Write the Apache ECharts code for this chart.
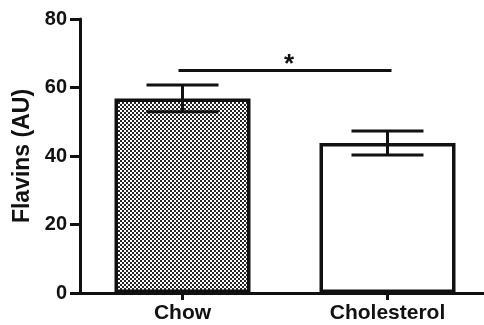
<!DOCTYPE html>
<html>
<head>
<meta charset="utf-8">
<script src="https://cdn.jsdelivr.net/npm/echarts@6/dist/echarts.min.js"></script>
<style>
  html, body { margin: 0; padding: 0; background: #fff; }
  #chart { width: 484px; height: 325px; }
</style>
</head>
<body>
<div id="chart"></div>
<script>
// Group labels, means and standard errors
const categories = ['Chow', 'Cholesterol'];
const means = [56.8, 43.8];
const errors = [3.9, 3.5];
const yTicks = { min: 0, max: 80, step: 20 };
const significance = { from: 0, to: 1, level: 65, mark: '*' };

const FONT = '"Liberation Sans", Arial, Helvetica, sans-serif';

// Group slots are 205 px apart; the x axis runs from the y axis to the right edge
const GRID_LEFT = 80, GRID_WIDTH = 404, SLOT = 205;
const xMin = -0.5;
const xMax = xMin + GRID_WIDTH / SLOT;
const positions = categories.map((_, i) => i);

// Fine checkerboard fill for the first bar
function checkerPattern() {
  const c = document.createElement('canvas');
  c.width = 4; c.height = 4;
  const g = c.getContext('2d');
  g.fillStyle = '#ffffff';
  g.fillRect(0, 0, 4, 4);
  g.fillStyle = '#262626';
  g.fillRect(0, 0, 2, 2);
  g.fillRect(2, 2, 2, 2);
  return c;
}

const chart = echarts.init(document.getElementById('chart'), null, { renderer: 'canvas' });

const barData = means.map((v, i) => ({
  value: [positions[i], v],
  itemStyle: i === 0
    ? { color: { image: checkerPattern(), repeat: 'repeat' } }
    : { color: '#ffffff' }
}));

const errData = means.map((v, i) => [positions[i], v, errors[i]]);

chart.setOption({
  animation: false,
  backgroundColor: '#ffffff',
  grid: { left: GRID_LEFT, top: 19, width: GRID_WIDTH, height: 274, containLabel: false },
  xAxis: {
    type: 'value',
    min: xMin, max: xMax,
    splitLine: { show: false },
    axisLine: { show: true, onZero: false, lineStyle: { color: '#111', width: 3 } },
    axisTick: { show: true, customValues: positions, length: 7, lineStyle: { color: '#111', width: 3 } },
    axisLabel: {
      customValues: positions,
      formatter: v => categories[Math.round(v)] || '',
      color: '#111', fontFamily: FONT, fontWeight: 'bold', fontSize: 21, margin: 10
    }
  },
  yAxis: {
    type: 'value',
    min: yTicks.min, max: yTicks.max, interval: yTicks.step,
    name: 'Flavins (AU)',
    nameLocation: 'middle',
    nameGap: 42,
    nameTextStyle: { color: '#111', fontFamily: FONT, fontWeight: 'bold', fontSize: 23 },
    splitLine: { show: false },
    axisLine: { show: true, onZero: false, lineStyle: { color: '#111', width: 3 } },
    axisTick: { show: true, length: 10, lineStyle: { color: '#111', width: 3 } },
    axisLabel: { color: '#111', fontFamily: FONT, fontWeight: 'bold', fontSize: 20, margin: 13 }
  },
  series: [
    {
      type: 'bar',
      data: barData,
      barWidth: 136,
      itemStyle: { borderColor: '#111', borderWidth: 3.5 },
      z: 2
    },
    {
      // SEM error bars: stem plus two caps
      type: 'custom',
      data: errData,
      z: 3,
      renderItem: function (params, api) {
        const x = api.value(0), m = api.value(1), e = api.value(2);
        const top = api.coord([x, m + e]);
        const bot = api.coord([x, m - e]);
        const half = 36;
        const style = { stroke: '#111', lineWidth: 3 };
        return {
          type: 'group',
          children: [
            { type: 'line', shape: { x1: top[0], y1: top[1], x2: bot[0], y2: bot[1] }, style: style },
            { type: 'line', shape: { x1: top[0] - half, y1: top[1], x2: top[0] + half, y2: top[1] }, style: style },
            { type: 'line', shape: { x1: bot[0] - half, y1: bot[1], x2: bot[0] + half, y2: bot[1] }, style: style }
          ]
        };
      }
    },
    {
      // Significance bracket between the two groups, star centred above it
      type: 'custom',
      data: [[positions[significance.from], positions[significance.to], significance.level]],
      z: 3,
      renderItem: function (params, api) {
        const a = api.coord([api.value(0), api.value(2)]);
        const b = api.coord([api.value(1), api.value(2)]);
        const midX = (a[0] + b[0]) / 2;
        return {
          type: 'group',
          children: [
            { type: 'line', shape: { x1: a[0] - 4, y1: a[1], x2: b[0] + 4, y2: b[1] },
              style: { stroke: '#111', lineWidth: 3 } },
            { type: 'text', x: midX + 4, y: a[1] - 19,
              style: { text: significance.mark, fill: '#111', font: 'bold 26px ' + FONT,
                       align: 'center', verticalAlign: 'top' } }
          ]
        };
      }
    }
  ]
});
</script>
</body>
</html>
